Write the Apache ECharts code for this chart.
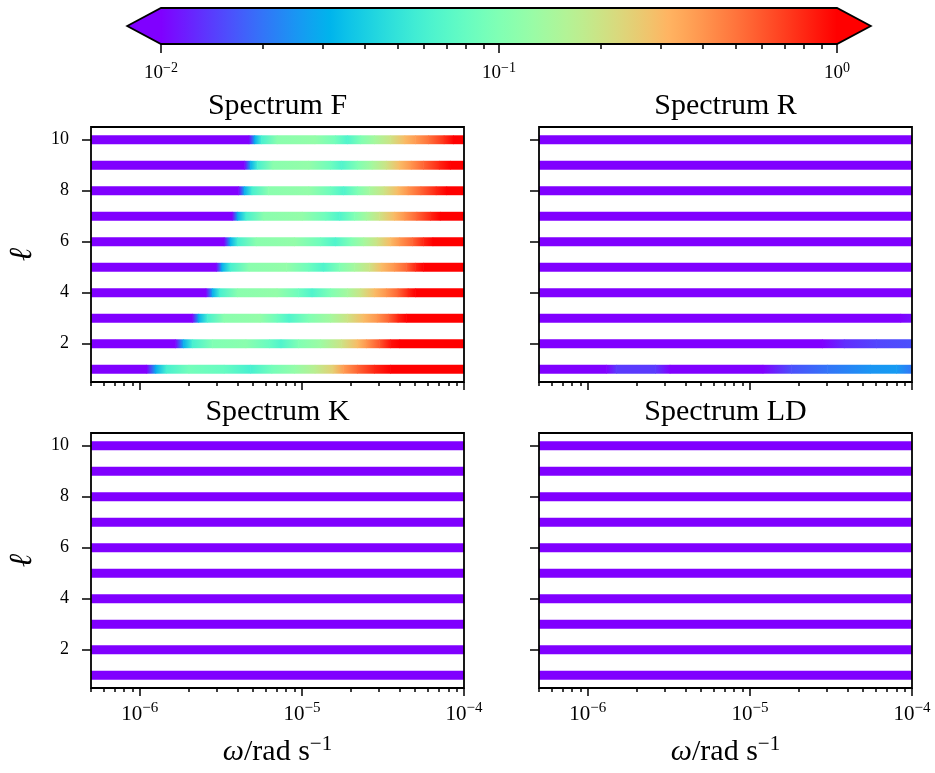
<!DOCTYPE html>
<html>
<head>
<meta charset="utf-8">
<script src="https://cdn.jsdelivr.net/npm/echarts@6/dist/echarts.min.js"></script>
<style>
  html, body { margin: 0; padding: 0; background: #fff; }
  #main { width: 935px; height: 773px; }
</style>
</head>
<body>
<div id="main"></div>
<script>
// axes
const omegaRange = [5e-7, 1e-4];
const omegaMajor = [1e-6, 1e-5, 1e-4];
const omegaMinor = [5e-7, 6e-7, 7e-7, 8e-7, 9e-7, 2e-6, 3e-6, 4e-6, 5e-6, 6e-6, 7e-6, 8e-6, 9e-6,
  2e-5, 3e-5, 4e-5, 5e-5, 6e-5, 7e-5, 8e-5, 9e-5];
const ells = [1, 2, 3, 4, 5, 6, 7, 8, 9, 10];
const ellRange = [0.5, 10.5];
const ellTicks = [2, 4, 6, 8, 10];
const cbarRange = [0.01, 1];
const cbarMajor = [0.01, 0.1, 1];
const cbarMinor = [0.02, 0.03, 0.04, 0.05, 0.06, 0.07, 0.08, 0.09, 0.2, 0.3, 0.4, 0.5, 0.6, 0.7, 0.8, 0.9];
const titles = ['Spectrum F', 'Spectrum R', 'Spectrum K', 'Spectrum LD'];

// [omega, value] readings along each band, l = 1..10
const specF = [
  [[5e-7,.008],[1.1e-6,.008],[1.25e-6,.03],[1.45e-6,.06],[2e-6,.09],[3.3e-6,.08],[4.8e-6,.06],[6.5e-6,.09],[9e-6,.12],[1.2e-5,.17],[1.55e-5,.25],[1.8e-5,.38],[2.2e-5,.55],[2.8e-5,.8],[3.5e-5,1.1],[1e-4,1.2]],
  [[5e-7,.008],[1.65e-6,.008],[1.85e-6,.03],[2.1e-6,.06],[2.8e-6,.1],[4.5e-6,.11],[6.3e-6,.08],[7.4e-6,.065],[9.5e-6,.1],[1.3e-5,.13],[1.75e-5,.2],[2.2e-5,.3],[2.5e-5,.4],[3e-5,.6],[3.5e-5,.9],[4e-5,1.2],[1e-4,1.2]],
  [[5e-7,.008],[2.1e-6,.008],[2.3e-6,.03],[2.6e-6,.06],[3.3e-6,.11],[5.5e-6,.12],[7e-6,.085],[8.3e-6,.065],[1.1e-5,.1],[1.5e-5,.14],[1.9e-5,.2],[2.4e-5,.3],[2.9e-5,.4],[3.4e-5,.55],[3.9e-5,.8],[4.4e-5,1.1],[1e-4,1.2]],
  [[5e-7,.008],[2.55e-6,.008],[2.8e-6,.03],[3.1e-6,.06],[4e-6,.11],[7e-6,.12],[9.5e-6,.085],[1.15e-5,.065],[1.5e-5,.1],[1.9e-5,.14],[2.3e-5,.2],[2.8e-5,.3],[3.3e-5,.4],[3.9e-5,.55],[4.5e-5,.8],[5e-5,1.1],[1e-4,1.2]],
  [[5e-7,.008],[2.95e-6,.008],[3.2e-6,.03],[3.6e-6,.06],[4.7e-6,.11],[8e-6,.12],[1.1e-5,.085],[1.35e-5,.065],[1.7e-5,.1],[2.1e-5,.14],[2.6e-5,.2],[3.1e-5,.3],[3.7e-5,.4],[4.4e-5,.55],[5e-5,.8],[5.6e-5,1.1],[1e-4,1.2]],
  [[5e-7,.008],[3.3e-6,.008],[3.6e-6,.03],[4e-6,.06],[5.2e-6,.11],[9e-6,.12],[1.3e-5,.085],[1.6e-5,.065],[2e-5,.1],[2.4e-5,.14],[2.9e-5,.2],[3.5e-5,.3],[4e-5,.4],[4.8e-5,.55],[5.6e-5,.8],[6.4e-5,1.1],[1e-4,1.2]],
  [[5e-7,.008],[3.7e-6,.008],[4e-6,.03],[4.5e-6,.06],[5.8e-6,.11],[1e-5,.12],[1.4e-5,.085],[1.7e-5,.065],[2.1e-5,.1],[2.5e-5,.14],[3e-5,.2],[3.7e-5,.3],[4.3e-5,.4],[5.1e-5,.55],[6.2e-5,.8],[7.1e-5,1.1],[1e-4,1.2]],
  [[5e-7,.008],[4.05e-6,.008],[4.4e-6,.03],[4.9e-6,.06],[6.2e-6,.11],[1.1e-5,.12],[1.5e-5,.085],[1.8e-5,.065],[2.2e-5,.1],[2.6e-5,.14],[3.2e-5,.2],[3.9e-5,.3],[4.5e-5,.4],[5.4e-5,.55],[6.7e-5,.8],[7.8e-5,1.1],[1e-4,1.2]],
  [[5e-7,.008],[4.4e-6,.008],[4.8e-6,.03],[5.3e-6,.06],[6.6e-6,.11],[1.1e-5,.12],[1.5e-5,.085],[1.75e-5,.065],[2.2e-5,.1],[2.7e-5,.14],[3.3e-5,.2],[4e-5,.3],[4.7e-5,.4],[5.6e-5,.55],[7e-5,.8],[8.2e-5,1.1],[1e-4,1.2]],
  [[5e-7,.008],[4.7e-6,.008],[5.1e-6,.03],[5.6e-6,.06],[7e-6,.11],[1.2e-5,.12],[1.6e-5,.09],[1.9e-5,.065],[2.3e-5,.1],[2.8e-5,.14],[3.5e-5,.2],[4.3e-5,.3],[5e-5,.38],[6e-5,.5],[7.5e-5,.75],[8.6e-5,1.1],[1e-4,1.2]]
];
const specR = [
  [[5e-7,.008],[1.3e-6,.008],[1.5e-6,.014],[2.6e-6,.014],[3.2e-6,.008],[1.2e-5,.008],[1.8e-5,.016],[3e-5,.02],[5.5e-5,.025],[8e-5,.026],[1e-4,.02]],
  [[5e-7,.008],[2.8e-5,.008],[3.8e-5,.013],[6e-5,.015],[1e-4,.016]],
  [[5e-7,.008],[8.5e-5,.008],[1e-4,.011]],
  [[5e-7,.008],[1e-4,.008]],
  [[5e-7,.008],[1e-4,.008]],
  [[5e-7,.008],[1e-4,.008]],
  [[5e-7,.008],[1e-4,.008]],
  [[5e-7,.008],[1e-4,.008]],
  [[5e-7,.008],[1e-4,.008]],
  [[5e-7,.008],[1e-4,.008]]
];
const specK = [
  [[5e-7,.008],[1e-4,.008]], [[5e-7,.008],[1e-4,.008]], [[5e-7,.008],[1e-4,.008]], [[5e-7,.008],[1e-4,.008]], [[5e-7,.008],[1e-4,.008]],
  [[5e-7,.008],[1e-4,.008]], [[5e-7,.008],[1e-4,.008]], [[5e-7,.008],[1e-4,.008]], [[5e-7,.008],[1e-4,.008]], [[5e-7,.008],[1e-4,.008]]
];
const specLD = [
  [[5e-7,.008],[1e-4,.008]], [[5e-7,.008],[1e-4,.008]], [[5e-7,.008],[1e-4,.008]], [[5e-7,.008],[1e-4,.008]], [[5e-7,.008],[1e-4,.008]],
  [[5e-7,.008],[1e-4,.008]], [[5e-7,.008],[1e-4,.008]], [[5e-7,.008],[1e-4,.008]], [[5e-7,.008],[1e-4,.008]], [[5e-7,.008],[1e-4,.008]]
];
const spectra = [specF, specR, specK, specLD];

const SERIF = 'Liberation Serif';
const bandHeight = 0.35;

// matplotlib 'rainbow' colormap on a log norm
function rainbowT(t) {
  t = Math.min(1, Math.max(0, t));
  const c = [Math.abs(2 * t - 0.5), Math.sin(Math.PI * t), Math.cos(Math.PI * t / 2)];
  return 'rgb(' + c.map(v => Math.round(Math.min(1, Math.max(0, v)) * 255)).join(',') + ')';
}
function colorOf(v) {
  const lo = Math.log10(cbarRange[0]), hi = Math.log10(cbarRange[1]);
  return rainbowT((Math.log10(v) - lo) / (hi - lo));
}

function powLabel(v) {
  const e = Math.round(Math.log10(v));
  return '{b|10}{s|' + (e < 0 ? '\u2212' + (-e) : e) + '}';
}

function renderBand(params, api) {
  const l = api.value(2);
  const a = api.coord([api.value(0), l + bandHeight / 2]);
  const b = api.coord([api.value(1), l - bandHeight / 2]);
  return {
    type: 'rect',
    shape: { x: a[0], y: a[1], width: b[0] - a[0] + 0.6, height: b[1] - a[1] },
    style: {
      fill: new echarts.graphic.LinearGradient(0, 0, 1, 0, [
        { offset: 0, color: colorOf(api.value(3)) },
        { offset: 1, color: colorOf(api.value(4)) }
      ])
    }
  };
}

function renderCbar(params, api) {
  const p0 = api.coord([api.value(0), 1]);
  const p1 = api.coord([api.value(1), 0]);
  const x0 = p0[0], y0 = p0[1], x1 = p1[0], y1 = p1[1];
  const ym = (y0 + y1) / 2, ext = 0.05 * (x1 - x0);
  const stops = [];
  for (let i = 0; i <= 40; i++) stops.push({ offset: i / 40, color: rainbowT(i / 40) });
  return {
    type: 'group',
    children: [
      { type: 'rect', shape: { x: x0, y: y0, width: x1 - x0, height: y1 - y0 },
        style: { fill: new echarts.graphic.LinearGradient(0, 0, 1, 0, stops) } },
      { type: 'polygon', shape: { points: [[x0 + 0.5, y0], [x0 - ext, ym], [x0 + 0.5, y1]] },
        style: { fill: rainbowT(0) } },
      { type: 'polygon', shape: { points: [[x1 - 0.5, y0], [x1 + ext, ym], [x1 - 0.5, y1]] },
        style: { fill: rainbowT(1) } },
      { type: 'polygon', shape: { points: [[x0 - ext, ym], [x0, y0], [x1, y0], [x1 + ext, ym], [x1, y1], [x0, y1]] },
        style: { fill: null, stroke: '#000', lineWidth: 1.8 } }
    ]
  };
}

const panelPos = [
  { left: 91, top: 127 }, { left: 539, top: 127 },
  { left: 91, top: 433 }, { left: 539, top: 433 }
];
const grids = panelPos.map(p => ({
  left: p.left, top: p.top, width: 373, height: 255,
  show: true, z: 10, borderColor: '#000', borderWidth: 1.8, backgroundColor: 'transparent'
}));
grids.push({ left: 161, top: 8, width: 676, height: 36 });

const tickStyle = { color: '#000', width: 1.5 };
const xAxes = [], yAxes = [], series = [], titleList = [];

panelPos.forEach((p, i) => {
  const bottom = i >= 2, left = i % 2 === 0;
  xAxes.push({
    type: 'log', logBase: 10, gridIndex: i, min: omegaRange[0], max: omegaRange[1], position: 'bottom', z: 11,
    axisLine: { show: false, onZero: false }, splitLine: { show: false },
    axisTick: { show: true, length: 8, lineStyle: tickStyle, customValues: omegaMajor },
    axisLabel: {
      show: bottom, customValues: omegaMajor, formatter: powLabel, margin: 13, color: '#000',
      rich: {
        b: { fontSize: 21, fontFamily: SERIF, color: '#000' },
        s: { fontSize: 15, fontFamily: SERIF, color: '#000', padding: [0, 0, 12, 0] }
      }
    },
    name: bottom ? '{w|\u03c9}{n|/rad s}{s|\u22121}' : '',
    nameLocation: 'middle', nameGap: 46,
    nameTextStyle: {
      rich: {
        w: { fontSize: 30, fontFamily: SERIF, fontStyle: 'italic', color: '#000' },
        n: { fontSize: 30, fontFamily: SERIF, color: '#000' },
        s: { fontSize: 21, fontFamily: SERIF, color: '#000', padding: [0, 0, 16, 0] }
      }
    }
  });
  xAxes.push({
    type: 'log', logBase: 10, gridIndex: i, min: omegaRange[0], max: omegaRange[1], position: 'bottom', z: 11,
    axisLine: { show: false, onZero: false }, splitLine: { show: false },
    axisTick: { show: true, length: 4, lineStyle: tickStyle, customValues: omegaMinor },
    axisLabel: { show: false }
  });
  yAxes.push({
    type: 'value', gridIndex: i, min: ellRange[0], max: ellRange[1], z: 11,
    axisLine: { show: false }, splitLine: { show: false },
    axisTick: { show: true, length: 9, lineStyle: tickStyle, customValues: ellTicks },
    axisLabel: { show: left, customValues: ellTicks, margin: 22, color: '#000', fontSize: 18, fontFamily: SERIF },
    name: left ? '\u2113' : '', nameLocation: 'middle', nameRotate: 90, nameGap: 52,
    nameTextStyle: { fontSize: 32, fontFamily: 'DejaVu Serif', fontStyle: 'italic', color: '#000' }
  });
  const data = [];
  spectra[i].forEach((pts, k) => {
    for (let j = 0; j < pts.length - 1; j++) {
      data.push([pts[j][0], pts[j + 1][0], ells[k], pts[j][1], pts[j + 1][1]]);
    }
  });
  series.push({
    type: 'custom', xAxisIndex: 2 * i, yAxisIndex: i, clip: true, silent: true,
    renderItem: renderBand, encode: { x: [0, 1], y: 2 }, data: data
  });
  titleList.push({
    text: titles[i], left: p.left + 373 / 2, top: p.top - 36, textAlign: 'center', padding: 0,
    textStyle: { fontSize: 30, fontFamily: SERIF, fontWeight: 'normal', color: '#000' }
  });
});

// colorbar
xAxes.push({
  type: 'log', logBase: 10, gridIndex: 4, min: cbarRange[0], max: cbarRange[1], position: 'bottom',
  axisLine: { show: false, onZero: false }, splitLine: { show: false },
  axisTick: { show: true, length: 9, lineStyle: tickStyle, customValues: cbarMajor },
  axisLabel: {
    customValues: cbarMajor, formatter: powLabel, margin: 17,
    rich: {
      b: { fontSize: 19, fontFamily: SERIF, color: '#000' },
      s: { fontSize: 14, fontFamily: SERIF, color: '#000', padding: [0, 0, 11, 0] }
    }
  }
});
xAxes.push({
  type: 'log', logBase: 10, gridIndex: 4, min: cbarRange[0], max: cbarRange[1], position: 'bottom',
  axisLine: { show: false, onZero: false }, splitLine: { show: false },
  axisTick: { show: true, length: 5, lineStyle: tickStyle, customValues: cbarMinor },
  axisLabel: { show: false }
});
yAxes.push({ type: 'value', gridIndex: 4, min: 0, max: 1, show: false });
series.push({
  type: 'custom', xAxisIndex: 8, yAxisIndex: 4, clip: false, silent: true,
  renderItem: renderCbar, encode: { x: [0, 1] }, data: [[cbarRange[0], cbarRange[1]]]
});

const chart = echarts.init(document.getElementById('main'));
chart.setOption({
  backgroundColor: '#fff',
  animation: false,
  title: titleList,
  grid: grids,
  xAxis: xAxes,
  yAxis: yAxes,
  series: series
});
</script>
</body>
</html>
